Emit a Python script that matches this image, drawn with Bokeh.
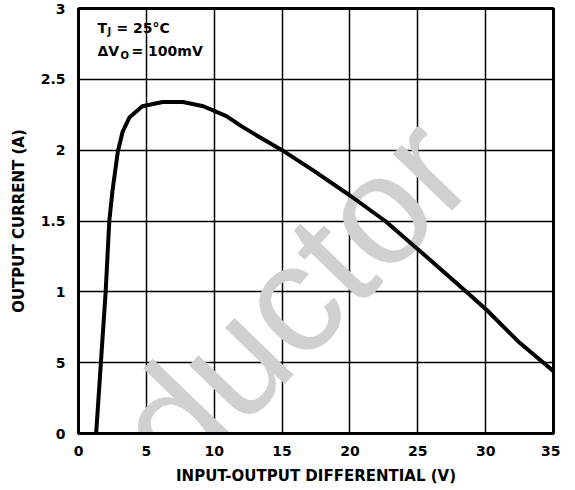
from bokeh.plotting import figure
from bokeh.models import Range1d, FixedTicker, Label
from bokeh.embed import file_html
from bokeh.resources import INLINE

# Data
vin_out = [1.3, 1.65, 2.0, 2.27, 2.5, 2.9, 3.25, 3.75, 4.7, 6.2, 7.7, 9.2,
           10.9, 12.0, 13.2, 15.0, 17.4, 20.0, 22.6, 24.9, 28.7, 30.1, 32.4, 35.0]
i_out = [0.0, 0.5, 1.0, 1.5, 1.71, 1.99, 2.13, 2.23, 2.31, 2.34, 2.34, 2.31,
         2.24, 2.17, 2.10, 2.0, 1.85, 1.68, 1.5, 1.31, 0.99, 0.87, 0.65, 0.44]

x_ticks = [0, 5, 10, 15, 20, 25, 30, 35]
y_ticks = [0, 0.5, 1, 1.5, 2, 2.5, 3]
y_tick_labels = ["0", "5", "1", "1.5", "2", "2.5", "3"]

FONT = "DejaVu Sans"

p = figure(width=560, height=490, output_backend="svg", toolbar_location=None,
           x_range=Range1d(0, 35), y_range=Range1d(0, 3),
           min_border_left=78, min_border_right=7, min_border_top=8,
           min_border_bottom=57)
p.background_fill_color = "white"
p.border_fill_color = "white"
p.outline_line_color = "black"
p.outline_line_width = 3

# Watermark
wm = Label(x=-4.1, y=-1.02, text="onductor", angle=46, angle_units="deg",
           text_font="Liberation Sans", text_font_size="155px",
           text_baseline="alphabetic", text_color="#d0d0d0", level="underlay")
p.add_layout(wm)

p.xaxis.ticker = FixedTicker(ticks=x_ticks)
p.yaxis.ticker = FixedTicker(ticks=y_ticks)
p.yaxis.major_label_overrides = {t: l for t, l in zip(y_ticks, y_tick_labels)}

for ax in (p.xaxis, p.yaxis):
    ax.axis_line_color = "black"
    ax.axis_line_width = 3
    ax.major_tick_line_color = None
    ax.minor_tick_line_color = None
    ax.major_label_text_font = FONT
    ax.major_label_text_font_style = "bold"
    ax.major_label_text_font_size = "14px"
    ax.major_label_text_color = "black"
    ax.axis_label_text_font = FONT
    ax.axis_label_text_font_style = "bold"
    ax.axis_label_text_color = "black"

p.xaxis.major_label_standoff = 6
p.yaxis.major_label_standoff = 7
p.xaxis.axis_label = "INPUT-OUTPUT DIFFERENTIAL (V)"
p.yaxis.axis_label = "OUTPUT CURRENT (A)"
p.xaxis.axis_label_text_font_size = "15px"
p.yaxis.axis_label_text_font_size = "15px"
p.xaxis.axis_label_standoff = 8
p.yaxis.axis_label_standoff = 10

p.grid.grid_line_color = "black"
p.grid.grid_line_width = 1.5
p.grid.grid_line_alpha = 1.0

p.line(vin_out, i_out, line_color="black", line_width=4, line_join="round")

# Conditions annotation
ax0, ay1, ay2 = 1.4, 2.865, 2.70
def lab(txt, dx, y, size="14px", dy=0):
    p.add_layout(Label(x=ax0, y=y, x_offset=dx, y_offset=dy, text=txt,
                       text_font=FONT, text_font_style="bold",
                       text_font_size=size, text_color="black",
                       text_baseline="alphabetic"))

lab("T", 0, ay1)
lab("J", 10, ay1, size="10px", dy=-4)
lab("= 25°C", 19, ay1)
lab("ΔV", 0, ay2)
lab("O", 23, ay2, size="10px", dy=-4)
lab("= 100mV", 34, ay2)

open("out.html", "w").write(file_html(p, INLINE))
